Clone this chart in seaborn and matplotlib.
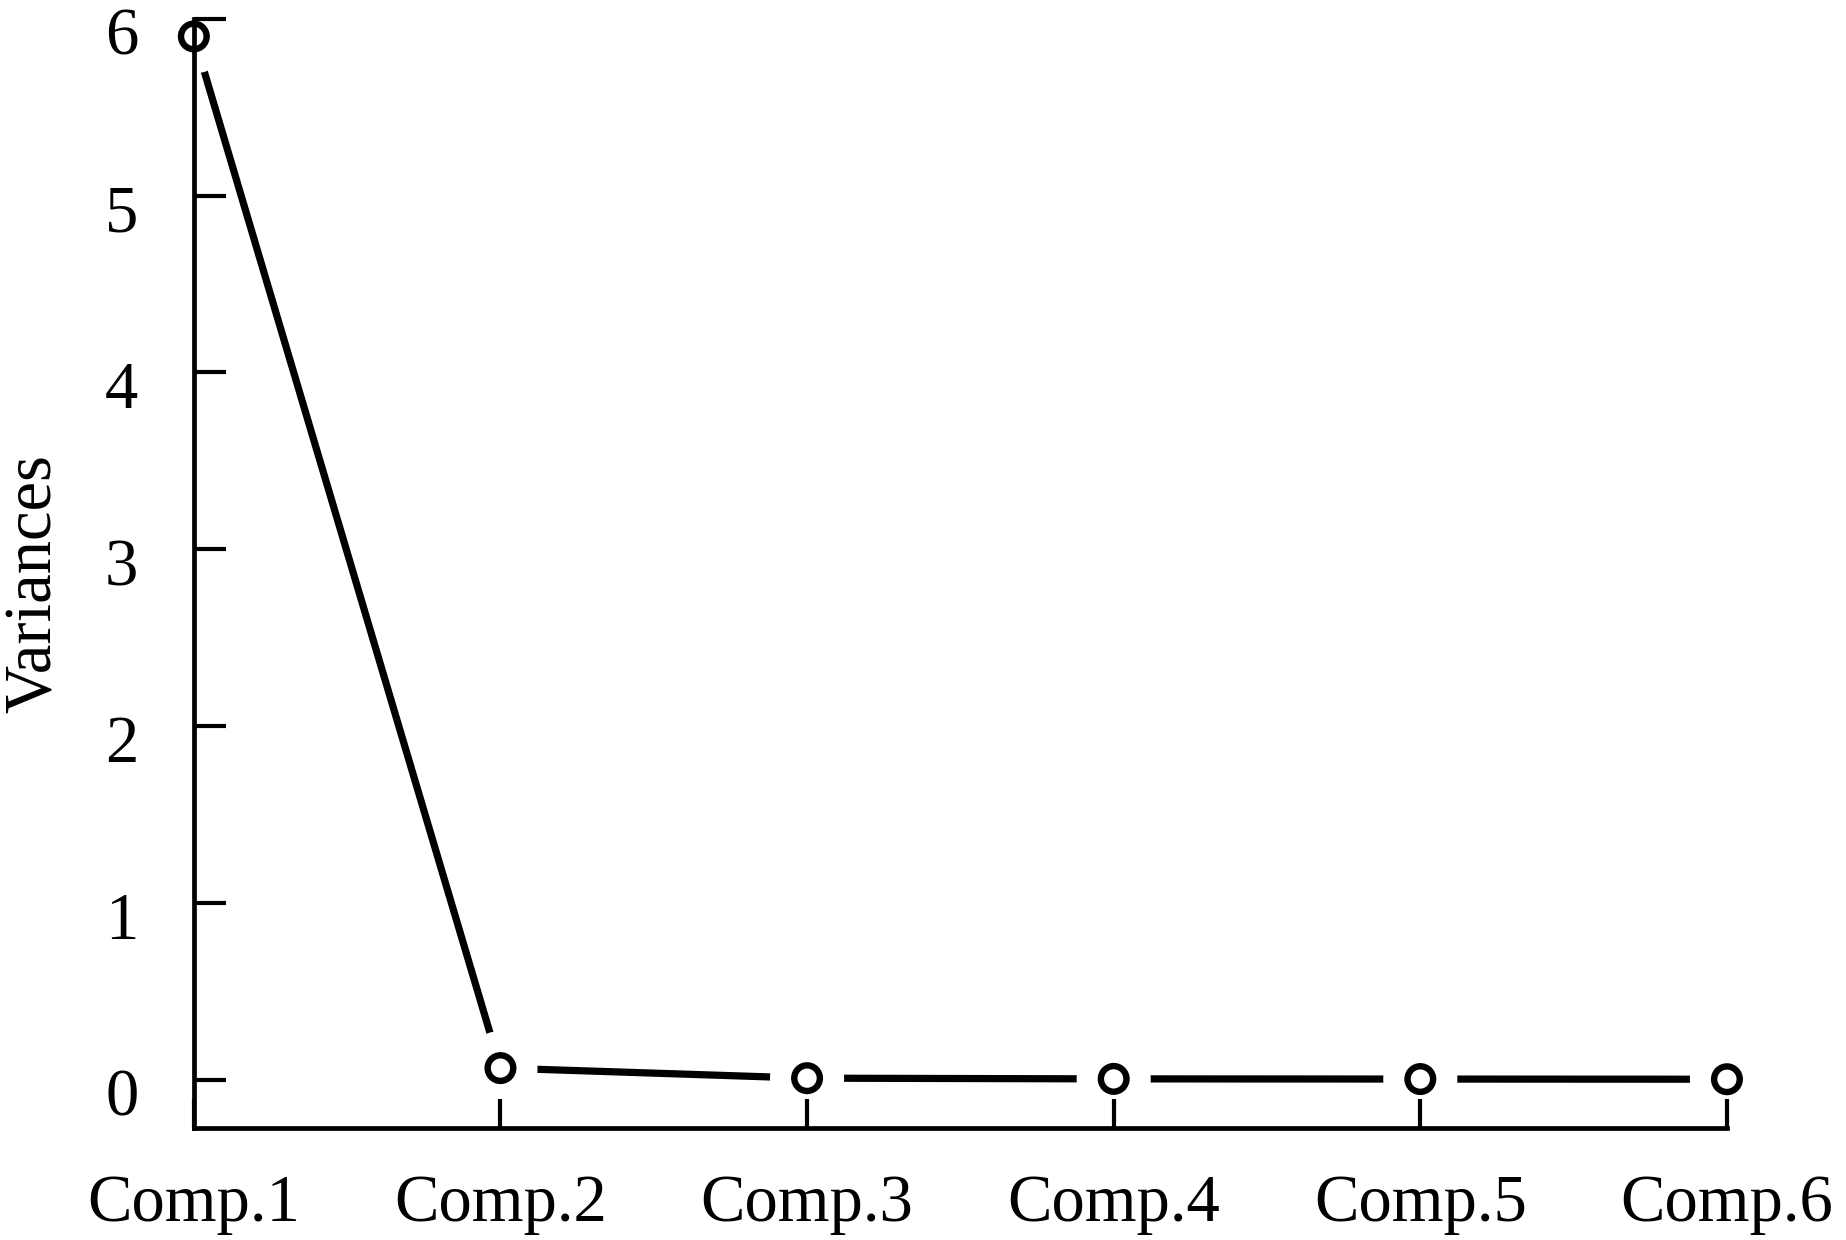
import numpy as np
import matplotlib
matplotlib.use("Agg")
import matplotlib.pyplot as plt
import matplotlib.transforms as mtransforms
import seaborn as sns

# scree plot values
components = ["Comp.1", "Comp.2", "Comp.3", "Comp.4", "Comp.5", "Comp.6"]
variances = [5.90, 0.065, 0.008, 0.004, 0.003, 0.002]
y_ticks = [0, 1, 2, 3, 4, 5, 6]

sns.set_style("ticks")
plt.rcParams["font.family"] = ["Liberation Serif", "DejaVu Serif"]

fig = plt.figure(figsize=(18.46, 12.40), dpi=100)
ax = fig.add_axes([0.105, 0.0903, 0.8305, 0.9097])

pos = np.arange(len(components))

# connecting line, with white halos around the points to leave gaps
sns.lineplot(x=pos, y=variances, ax=ax, color="black", linewidth=5.2, zorder=2)
sns.scatterplot(x=pos, y=variances, ax=ax, s=2850, color="white",
                edgecolor="none", zorder=2.2, clip_on=False)
sns.scatterplot(x=pos, y=variances, ax=ax, s=340, marker="o",
                facecolor="none", edgecolor="black", linewidth=4.6,
                zorder=3, clip_on=False)

ax.set_axisbelow(False)
ax.set_xlim(0, 5)
ax.set_ylim(-0.274, 6.106)
ax.set_xticks(pos, components)
ax.set_yticks(y_ticks)

for side in ["top", "right"]:
    ax.spines[side].set_visible(False)
ax.spines["left"].set_bounds(-0.274, 6)
ax.spines["bottom"].set_bounds(0, 5)
for side in ["left", "bottom"]:
    ax.spines[side].set_linewidth(3.4)
    ax.spines[side].set_color("black")
    ax.spines[side].set_capstyle("projecting")

ax.tick_params(axis="y", direction="in", length=23, width=3,
               labelsize=48, pad=40, colors="black")
ax.tick_params(axis="x", direction="in", length=21, width=3,
               labelsize=48, pad=33, colors="black")

# y labels sit a little below their ticks in the reference
shift = mtransforms.ScaledTranslation(0, -9 / 72, fig.dpi_scale_trans)
for lab in ax.get_yticklabels():
    lab.set_transform(lab.get_transform() + shift)

ax.set_ylabel("Variances", fontsize=48, color="black")
ax.yaxis.set_label_coords(-0.084, 0.483)

plt.savefig("out.png", dpi=100)
plt.close()
